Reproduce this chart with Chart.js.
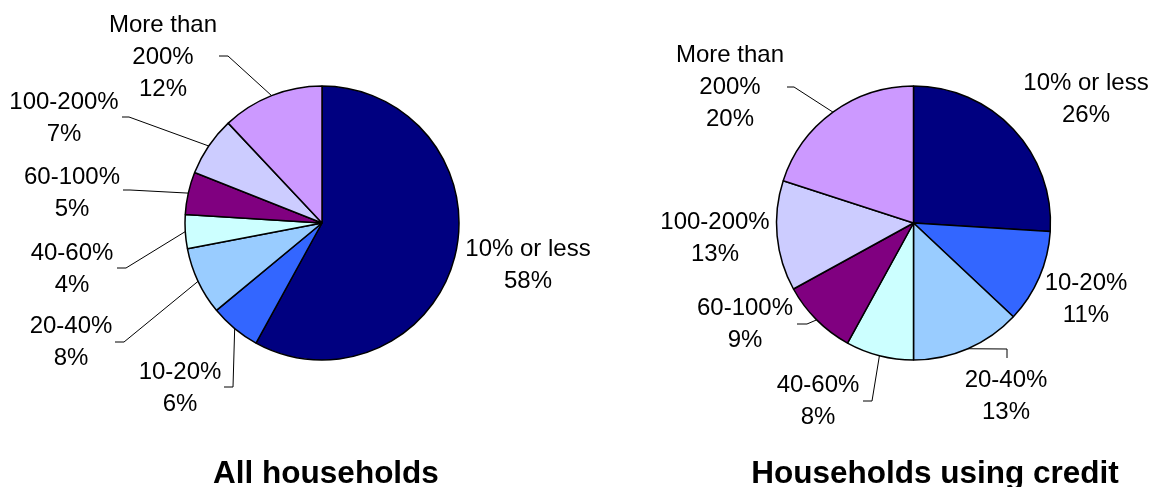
<!DOCTYPE html>
<html>
<head>
<meta charset="utf-8">
<script src="https://cdn.jsdelivr.net/npm/chart.js@4/dist/chart.umd.min.js"></script>
<style>
  html, body { margin: 0; padding: 0; background: #fff; }
  .pane { position: absolute; top: 0; height: 487px; }
</style>
</head>
<body>
<div class="pane" style="left:0;width:640px"><canvas id="allChart" width="640" height="487"></canvas></div>
<div class="pane" style="left:577px;width:577px"><canvas id="creditChart" width="577" height="487"></canvas></div>
<script>
// categories and shares (%)
const categories = ['10% or less', '10-20%', '20-40%', '40-60%', '60-100%', '100-200%', 'More than 200%'];
const categoryLines = [['10% or less'], ['10-20%'], ['20-40%'], ['40-60%'], ['60-100%'], ['100-200%'], ['More than', '200%']];
const allHouseholds = [58, 6, 8, 4, 5, 7, 12];
const creditHouseholds = [26, 11, 13, 8, 9, 13, 20];
const chartTitles = ['All households', 'Households using credit'];

const sliceColors = ['#000080', '#3366FF', '#99CCFF', '#CCFFFF', '#800080', '#CCCCFF', '#CC99FF'];
const FONT = '"Liberation Sans", Arial, sans-serif';
const LINE_H = 32;

// label placement per chart (x = text centre, y = first line centre, leader = points near the label)
const allLabelPos = [
  { x: 528, y: 249, leader: null },
  { x: 180, y: 372, leader: [[224, 387], [233, 387]] },
  { x: 71, y: 326, leader: [[115, 342], [124, 342]] },
  { x: 72, y: 253, leader: [[117, 268], [126, 268]] },
  { x: 72, y: 177, leader: [[123, 190], [130, 190]] },
  { x: 64, y: 102, leader: [[122, 117], [129, 117]] },
  { x: 163, y: 25, leader: [[219, 56], [228, 56]] },
];
const creditLabelPos = [
  { x: 509, y: 83, leader: null },
  { x: 509, y: 283, leader: null },
  { x: 429, y: 380, leader: [[430, 358], [430, 349]] },
  { x: 241, y: 385, leader: [[286, 401], [295, 401]] },
  { x: 168, y: 308, leader: [[220, 324], [230, 324]] },
  { x: 138, y: 222, leader: null },
  { x: 153, y: 55, leader: [[210, 87], [217, 87]] },
];

const pieLabels = {
  id: 'pieLabels',
  afterDraw(chart, args, opts) {
    const ctx = chart.ctx;
    const meta = chart.getDatasetMeta(0);
    const values = chart.data.datasets[0].data;
    ctx.save();
    meta.data.forEach((arc, i) => {
      const p = opts.positions[i];
      const { x, y, startAngle, endAngle, outerRadius } = arc.getProps(['x', 'y', 'startAngle', 'endAngle', 'outerRadius'], true);
      if (p.leader) {
        const mid = (startAngle + endAngle) / 2;
        ctx.strokeStyle = '#000';
        ctx.lineWidth = 1;
        ctx.beginPath();
        ctx.moveTo(p.leader[0][0], p.leader[0][1]);
        for (let k = 1; k < p.leader.length; k++) ctx.lineTo(p.leader[k][0], p.leader[k][1]);
        ctx.lineTo(x + Math.cos(mid) * outerRadius, y + Math.sin(mid) * outerRadius);
        ctx.stroke();
      }
      const lines = categoryLines[i].concat([values[i] + '%']);
      ctx.fillStyle = '#000';
      ctx.font = '24px ' + FONT;
      ctx.textAlign = 'center';
      ctx.textBaseline = 'middle';
      lines.forEach((t, k) => ctx.fillText(t, p.x, p.y + k * LINE_H));
    });
    ctx.font = 'bold 31.5px ' + FONT;
    ctx.textAlign = 'center';
    ctx.textBaseline = 'alphabetic';
    ctx.fillText(opts.title, opts.titleX, 483);
    ctx.restore();
  }
};

function makePie(id, values, padding, positions, title, titleX) {
  return new Chart(document.getElementById(id), {
    type: 'pie',
    data: {
      labels: categories,
      datasets: [{
        data: values,
        backgroundColor: sliceColors,
        borderColor: '#000',
        borderWidth: 1.5,
      }],
    },
    options: {
      responsive: false,
      animation: false,
      radius: 137,
      layout: { padding: padding },
      plugins: {
        legend: { display: false },
        tooltip: { enabled: false },
        pieLabels: { positions: positions, title: title, titleX: titleX },
      },
    },
    plugins: [pieLabels],
  });
}

makePie('allChart', allHouseholds, { left: 4, right: 0, top: 0, bottom: 41 }, allLabelPos, chartTitles[0], 326);
makePie('creditChart', creditHouseholds, { left: 96, right: 0, top: 0, bottom: 41 }, creditLabelPos, chartTitles[1], 358);
</script>
</body>
</html>
